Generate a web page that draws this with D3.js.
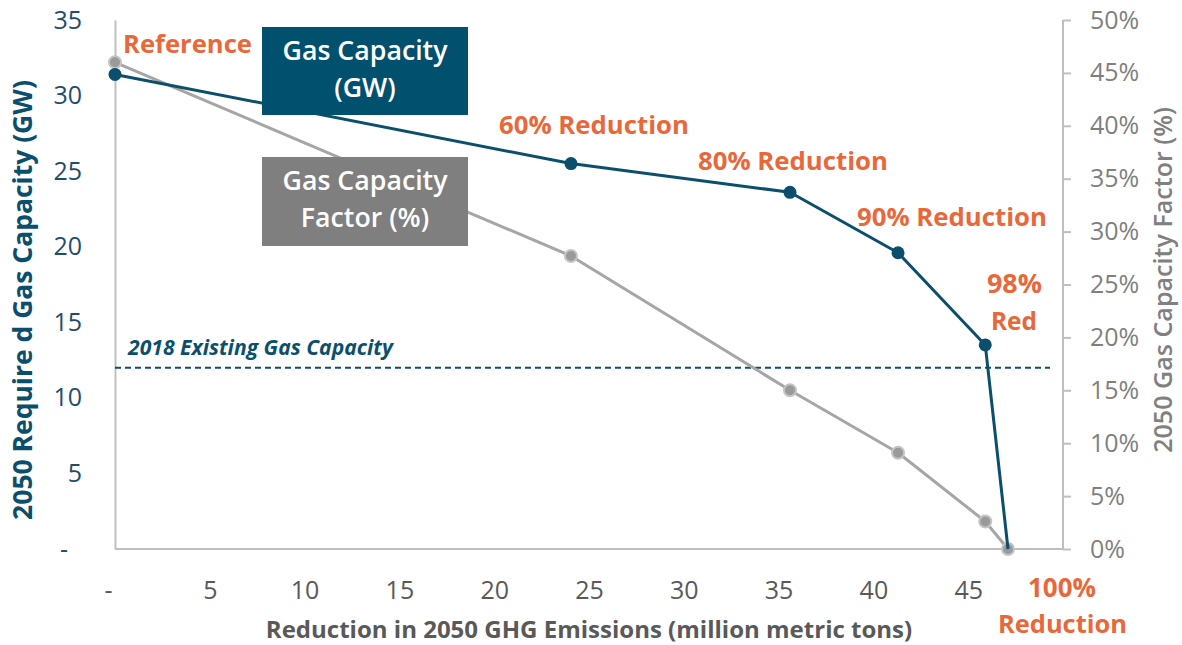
<!DOCTYPE html>
<html>
<head>
<meta charset="utf-8">
<script src="https://cdn.jsdelivr.net/npm/d3@7"></script>
<style>
  body { margin: 0; background: #fff; }
  text { font-family: "Open Sans", sans-serif; }
</style>
</head>
<body>
<div id="chart"></div>
<script>
// data
const emissions = [0, 24.05, 35.6, 41.3, 45.9, 47.1];           // million metric tons
const gasCapacity = [31.4, 25.5, 23.6, 19.6, 13.5, 0];           // GW
const capacityFactor = [0.46, 0.277, 0.150, 0.091, 0.026, 0];    // share
const existingCapacity = 12;
const xTicks = [0, 5, 10, 15, 20, 25, 30, 35, 40, 45];
const yLeftTicks = [0, 5, 10, 15, 20, 25, 30, 35];
const yRightTicks = [0, 0.05, 0.1, 0.15, 0.2, 0.25, 0.3, 0.35, 0.4, 0.45, 0.5];

const width = 1182, height = 645;
const blue = "#0b4f6c", grey = "#a6a6a6", orange = "#e8683a";

const svg = d3.select("#chart").append("svg")
  .attr("width", width)
  .attr("height", height);

const x = d3.scaleLinear().domain([0, 50]).range([115, 1063]);
const yL = d3.scaleLinear().domain([0, 35]).range([549, 20]);
const yR = d3.scaleLinear().domain([0, 0.5]).range([549, 20]);

// scale font size so text spans a given width
function fit(sel, w) {
  const s = parseFloat(sel.attr("font-size"));
  const w0 = sel.node().getComputedTextLength();
  sel.attr("font-size", s * w / w0);
  return sel;
}

// axes
const gx = svg.append("g")
  .attr("transform", `translate(0,${yL(0)})`)
  .call(d3.axisBottom(x).tickValues(xTicks).tickSize(0).tickPadding(32)
    .tickFormat(d => d === 0 ? "-" : d));
gx.select(".domain").attr("stroke", "#bfbfbf").attr("stroke-width", 2)
  .attr("d", `M115,0H1063`);
gx.selectAll("text").attr("font-size", 25).attr("fill", "#595959").attr("font-family", "Open Sans")
  .attr("dx", d => d === 0 ? -7 : 0);

const gl = svg.append("g")
  .attr("transform", `translate(${x(0)},0)`)
  .call(d3.axisLeft(yL).tickValues(yLeftTicks).tickSize(0).tickPadding(33)
    .tickFormat(d => d === 0 ? "-" : d));
gl.select(".domain").attr("stroke", "#bfbfbf").attr("stroke-width", 2);
gl.selectAll("text").attr("font-size", 25).attr("fill", "#1f4e6b").attr("font-family", "Open Sans")
  .attr("dx", d => d === 0 ? -14 : 0);

const gr = svg.append("g")
  .attr("transform", `translate(${x(50)},0)`)
  .call(d3.axisRight(yR).tickValues(yRightTicks).tickSize(8).tickPadding(19)
    .tickFormat(d3.format(".0%")));
gr.select(".domain").attr("stroke", "#bfbfbf").attr("stroke-width", 2)
  .attr("d", `M0,${yR(0)}V${yR(0.5)}`);
gr.selectAll(".tick line").attr("stroke", "#bfbfbf").attr("stroke-width", 2);
gr.selectAll("text").attr("font-size", 25).attr("fill", "#7f7f7f").attr("font-family", "Open Sans");

// axis titles
fit(svg.append("text")
  .attr("transform", `translate(32,300) rotate(-90)`)
  .attr("text-anchor", "middle")
  .attr("font-size", 24).attr("font-weight", 700).attr("fill", blue)
  .text("2050 Require d Gas Capacity (GW)"), 440);

fit(svg.append("text")
  .attr("transform", `translate(1172,280) rotate(-90)`)
  .attr("text-anchor", "middle")
  .attr("font-size", 22).attr("font-weight", 600).attr("fill", "#808080")
  .text("2050 Gas Capacity Factor (%)"), 346);

fit(svg.append("text")
  .attr("x", 589).attr("y", 638)
  .attr("text-anchor", "middle")
  .attr("font-size", 24).attr("font-weight", 700).attr("fill", "#595959")
  .text("Reduction in 2050 GHG Emissions (million metric tons)"), 647);

// existing capacity line
svg.append("line")
  .attr("x1", x(0)).attr("x2", 1050)
  .attr("y1", yL(existingCapacity)).attr("y2", yL(existingCapacity))
  .attr("stroke", blue).attr("stroke-width", 2).attr("stroke-dasharray", "6,4");

fit(svg.append("text")
  .attr("x", 128).attr("y", 355)
  .attr("font-size", 16).attr("font-weight", 700).attr("font-style", "italic")
  .attr("fill", blue)
  .text("2018 Existing Gas Capacity"), 265);

// series
const pts = emissions.map((e, i) => ({ e, gw: gasCapacity[i], cf: capacityFactor[i] }));

svg.append("path")
  .datum(pts)
  .attr("d", d3.line().x(d => x(d.e)).y(d => yR(d.cf)))
  .attr("fill", "none").attr("stroke", grey).attr("stroke-width", 3)
  .attr("stroke-linejoin", "round");

svg.selectAll(".cf").data(pts).join("circle")
  .attr("class", "cf")
  .attr("cx", d => x(d.e)).attr("cy", d => yR(d.cf))
  .attr("r", 6).attr("fill", "#9a9a9a").attr("stroke", "#c4c4c4").attr("stroke-width", 2);

svg.append("path")
  .datum(pts)
  .attr("d", d3.line().x(d => x(d.e)).y(d => yL(d.gw)))
  .attr("fill", "none").attr("stroke", blue).attr("stroke-width", 3)
  .attr("stroke-linejoin", "round");

svg.selectAll(".gw").data(pts.slice(0, 5)).join("circle")
  .attr("class", "gw")
  .attr("cx", d => x(d.e)).attr("cy", d => yL(d.gw))
  .attr("r", 6.5).attr("fill", blue);

// legend boxes
const boxes = [
  { lines: ["Gas Capacity", "(GW)"], fill: "#00506e", y: 27, h: 88 },
  { lines: ["Gas Capacity", "Factor (%)"], fill: "#7f7f7f", y: 157, h: 89 }
];
boxes.forEach(b => {
  svg.append("rect")
    .attr("x", 262).attr("y", b.y).attr("width", 206).attr("height", b.h)
    .attr("fill", b.fill);
  const t1 = svg.append("text")
    .attr("x", 365).attr("y", b.y + 33)
    .attr("text-anchor", "middle").attr("font-size", 22).attr("font-weight", 600)
    .attr("fill", "#fff").text(b.lines[0]);
  fit(t1, 165);
  svg.append("text")
    .attr("x", 365).attr("y", b.y + 70)
    .attr("text-anchor", "middle").attr("font-size", t1.attr("font-size")).attr("font-weight", 600)
    .attr("fill", "#fff").text(b.lines[1]);
});

// scenario labels
const labels = [
  { t: "Reference", x: 123, y: 53, w: 129 },
  { t: "60% Reduction", x: 499, y: 134, w: 190 },
  { t: "80% Reduction", x: 698, y: 170, w: 190 },
  { t: "90% Reduction", x: 857, y: 226, w: 190 },
  { t: "98%", x: 987, y: 293, w: 55 },
  { t: "Red", x: 991, y: 330, w: 46 },
  { t: "100%", x: 1028, y: 597, w: 68 },
  { t: "Reduction", x: 998, y: 633, w: 129 }
];
labels.forEach(l => {
  fit(svg.append("text")
    .attr("x", l.x).attr("y", l.y)
    .attr("font-size", 24).attr("font-weight", 700).attr("fill", orange)
    .text(l.t), l.w);
});
</script>
</body>
</html>
